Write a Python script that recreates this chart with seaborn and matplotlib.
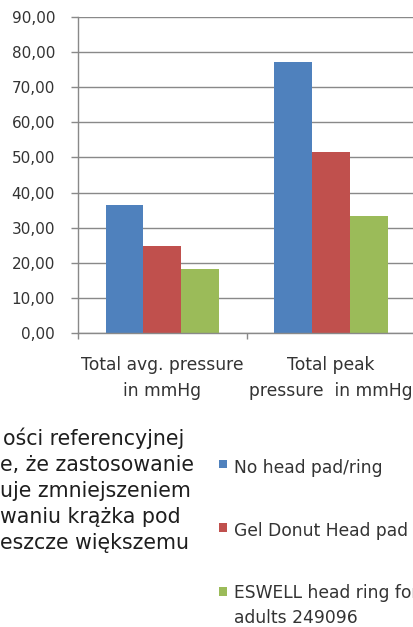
import pandas as pd
import matplotlib
matplotlib.use("Agg")
import matplotlib.pyplot as plt
import seaborn as sns
from matplotlib.patches import Rectangle
from matplotlib.ticker import FixedLocator, FuncFormatter

# chart data
categories = ["Total avg. pressure\nin mmHg", "Total peak\npressure  in mmHg"]
series = ["No head pad/ring", "Gel Donut Head pad", "ESWELL head ring for\nadults 249096"]
colors = ["#4F81BD", "#C0504D", "#9BBB59"]
no_pad = [36.4, 77.2]
gel_donut = [24.8, 51.6]
eswell = [18.1, 33.4]
y_ticks = [0, 10, 20, 30, 40, 50, 60, 70, 80, 90]

# fragment of the surrounding article text (cut off on the left)
body_lines = [
    "ości referencyjnej",
    "e, że zastosowanie",
    "uje zmniejszeniem",
    "waniu krążka pod",
    "eszcze większemu",
]

W, H = 413, 627
GRID = "#898989"
TXT = "#333333"

sns.set_style("white")
plt.rcParams["font.family"] = ["DejaVu Sans"]


def px_x(x):
    return x / W


def px_y(y):
    return (H - y) / H


def build_frame() -> pd.DataFrame:
    rows = []
    for name, vals in zip(series, [no_pad, gel_donut, eswell]):
        for cat, v in zip(categories, vals):
            rows.append({"metric": cat, "value": v, "series": name})
    return pd.DataFrame(rows)


df = build_frame()

fig = plt.figure(figsize=(W / 100, H / 100), dpi=100)
ax = fig.add_axes([px_x(78), px_y(332.67), (W - 78) / W, 315.33 / H])

sns.barplot(
    data=df, x="metric", y="value", hue="series",
    order=categories, hue_order=series, palette=colors,
    width=0.672, gap=0, saturation=1, errorbar=None,
    legend=False, ax=ax, linewidth=0,
)

ax.set_xlim(-0.5, 0.5 + (W - 246.7) / 168.7)
ax.set_ylim(0, 90)
ax.set_xlabel("")
ax.set_ylabel("")

# y axis
ax.set_yticks(y_ticks)
ax.yaxis.set_major_formatter(FuncFormatter(lambda v, _: f"{v:.2f}".replace(".", ",")))
ax.tick_params(axis="y", length=5, width=1, color=GRID, pad=11.5,
               labelsize=11, labelcolor=TXT, left=True)
ax.yaxis.grid(True, color=GRID, linewidth=1.0)
ax.set_axisbelow(True)

# x axis: labels at centers, tick marks at category boundaries
ax.tick_params(axis="x", which="major", length=0, pad=17,
               labelsize=12.3, labelcolor=TXT)
ax.xaxis.set_minor_locator(FixedLocator([-0.5, 0.5, 1.5]))
ax.tick_params(axis="x", which="minor", length=4, width=1, color=GRID,
               bottom=True)
for lab in ax.get_xticklabels():
    lab.set_linespacing(1.55)

for side in ["top", "right"]:
    ax.spines[side].set_visible(False)
for side in ["left", "bottom"]:
    ax.spines[side].set_color(GRID)
    ax.spines[side].set_linewidth(1.0)

# legend, Excel style (square aligned with first text line)
legend_baselines = [472.7, 536.0, 600.0]
legend_line_step = 23.3
for name, col, base in zip(series, colors, legend_baselines):
    fig.patches.append(Rectangle(
        (px_x(218.5), px_y(base - 4.5)), 8.5 / W, 8.5 / H,
        transform=fig.transFigure, facecolor=col, edgecolor="none"))
    # multi-line text is anchored on its last baseline
    last_base = base + legend_line_step * name.count("\n")
    fig.text(px_x(234), px_y(last_base), name, fontsize=12.3, color=TXT,
             ha="left", va="baseline", linespacing=1.49)

# article text on the left
for i, line in enumerate(body_lines):
    fig.text(px_x(3 if i == 0 else 0.5), px_y(445 + 26 * i), line,
             fontsize=14.8, color="#1e1e1e", ha="left", va="baseline")

fig.savefig("out.png", dpi=100)
